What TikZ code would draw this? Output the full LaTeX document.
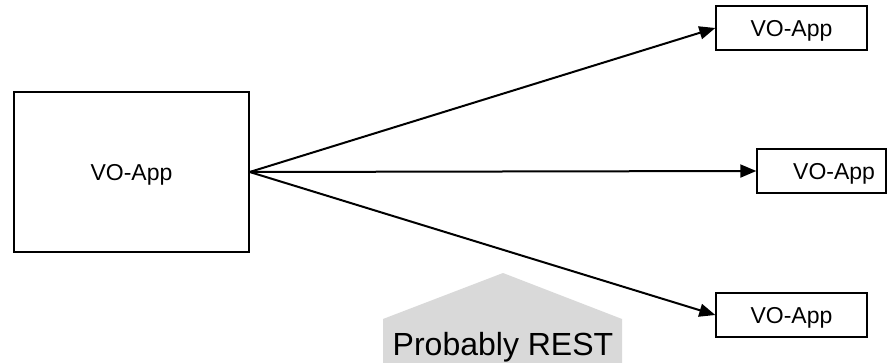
\documentclass[tikz,border=0pt]{standalone}
\usepackage{fontspec}
\setmainfont{Liberation Sans}
\usepackage{xcolor}
\usetikzlibrary{arrows.meta}
\definecolor{restgray}{HTML}{D9D9D9}

\begin{document}
\begin{tikzpicture}[x=1pt,y=-1pt,
        app/.style={draw,line width=1.4pt,font=\fontsize{23}{27}\selectfont,inner sep=0pt,text depth=0pt},
        call/.style={line width=2pt,-{Triangle[length=16pt,width=13pt]}}]
                % \draw[style=help lines] (0,0) grid (893,363);
                \useasboundingbox (0,0) rectangle (893,363);
                \fill[restgray] (383,363) -- (383,319) -- (503,273) -- (622,319) -- (622,363) -- cycle;
                \node[anchor=base,font=\fontsize{32}{38}\selectfont] (rest) at (503,355) {Probably REST};
                \node[app,minimum width=235pt,minimum height=160pt] (main) at (131.5,172) {VO-App};
                \node[app,minimum width=151pt,minimum height=44pt] (upper) at (791.5,28) {VO-App};
                \node[app,minimum width=129pt,minimum height=44pt,text width=107pt,align=right] (middle) at (821.5,171) {VO-App};
                \node[app,minimum width=151pt,minimum height=44pt] (lower) at (791.5,315) {VO-App};
                \draw[call] (main.east) -- (upper.west);
                \draw[call] (main.east) -- (middle.west);
                \draw[call] (main.east) -- (lower.west);
            \end{tikzpicture}
\end{document}
